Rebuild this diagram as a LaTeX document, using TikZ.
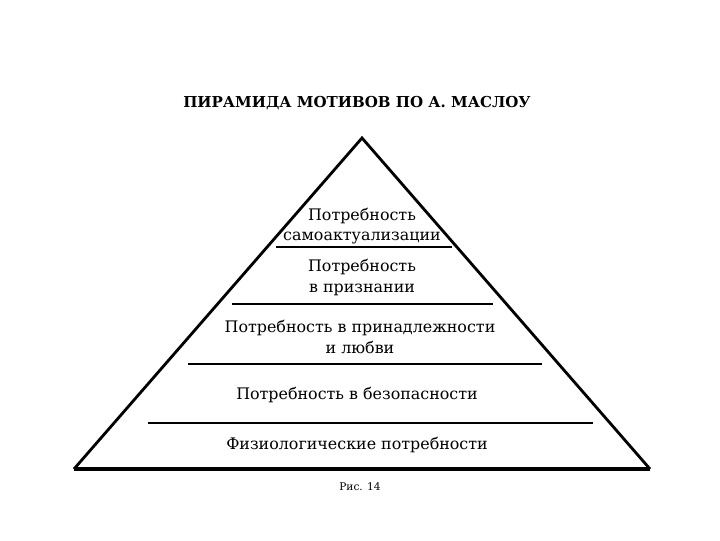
\documentclass[tikz,border=0pt]{standalone}
\usepackage{fontspec}
\setmainfont{DejaVu Serif}
\newfontfamily\timesfont{DejaVu Serif}
\usepackage{tikz}
\usetikzlibrary{positioning}
\tikzset{level/.style = {font=\timesfont\fontsize{11.3}{15}\selectfont, align=center, inner sep=0pt},
         divider/.style = {line width=0.9pt},
         edge/.style = {line width=2pt, line join=miter}}

\begin{document}
\begin{tikzpicture}[x=0.025cm, y=0.025cm]
    \useasboundingbox (0, 0) rectangle (720, 540);
    \coordinate (apex) at (362, 402);
    \coordinate (bl) at (74, 71);
    \coordinate (br) at (650, 71);
    \draw [edge] (bl) -- (apex) -- (br);
    \draw [line width=2.4pt] (bl) -- (br);

    % dividing lines between levels
    \coordinate (d1l) at (276, 293); \coordinate (d1r) at (452, 293);
    \coordinate (d2l) at (232, 236); \coordinate (d2r) at (493, 236);
    \coordinate (d3l) at (188, 176); \coordinate (d3r) at (542, 176);
    \coordinate (d4l) at (148, 117); \coordinate (d4r) at (593, 117);
    \draw [divider] (d1l) -- (d1r);
    \draw [divider] (d2l) -- (d2r);
    \draw [divider] (d3l) -- (d3r);
    \draw [divider] (d4l) -- (d4r);

    \node [font=\timesfont\fontsize{10.7}{14}\selectfont\bfseries] (title) at (357, 437) {ПИРАМИДА МОТИВОВ ПО А. МАСЛОУ};
    \node [level] (self) at (362, 314) {Потребность\\[-0.5pt]самоактуализации};
    \node [level] (esteem) at (362, 262.5) {Потребность\\[-0.5pt]в признании};
    \node [level] (love) at (360, 203) {Потребность в принадлежности\\[-0.5pt]и любви};
    \node [level] (safety) at (357, 145) {Потребность в безопасности};
    \node [level] (physio) at (357, 95) {Физиологические потребности};
    \node [font=\timesfont\fontsize{7.5}{10}\selectfont] (fig) at (360, 53) {Рис. 14};
\end{tikzpicture}
\end{document}
